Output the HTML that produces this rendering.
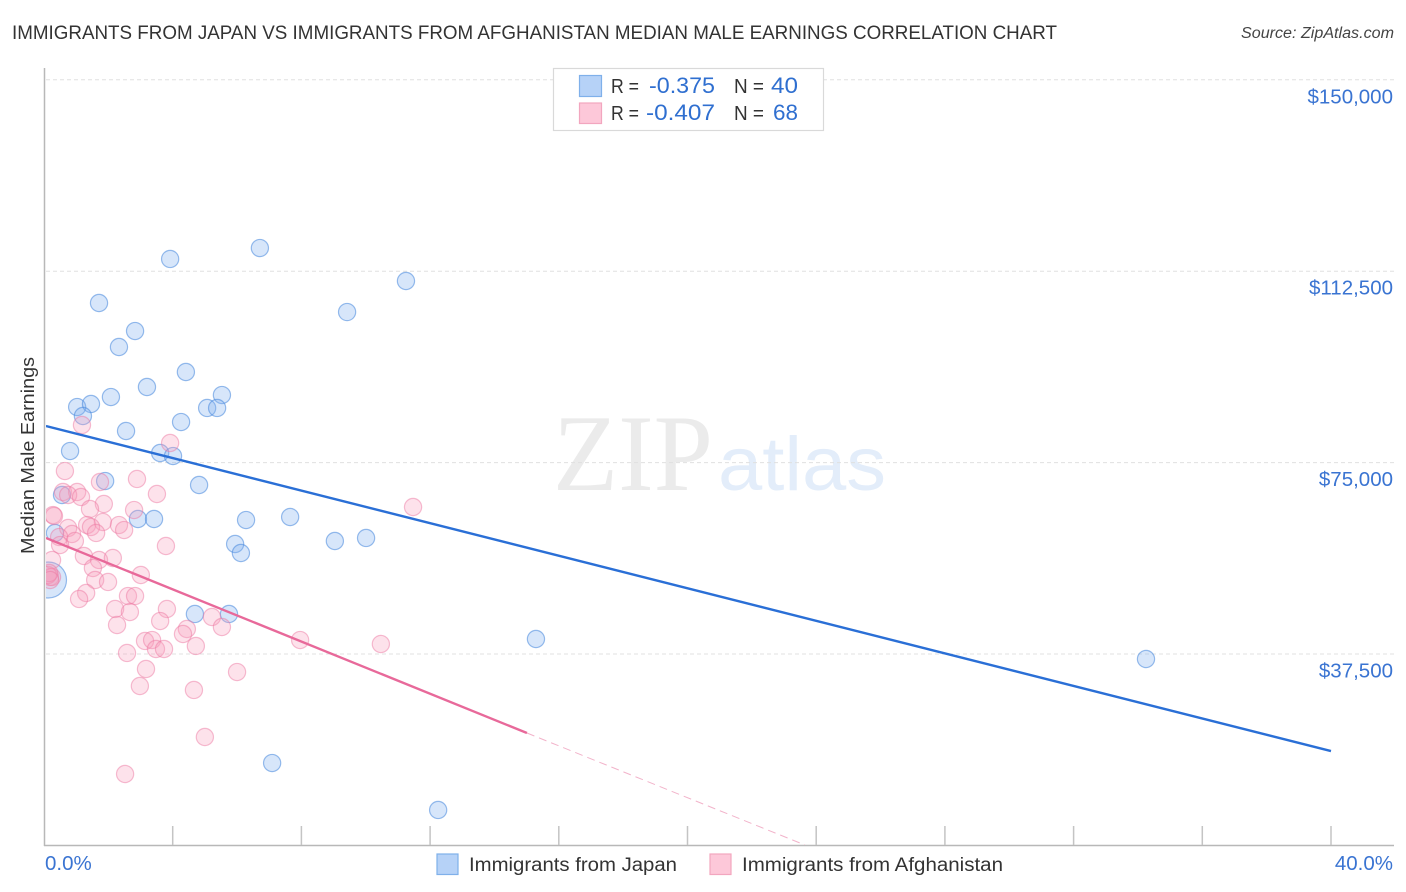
<!DOCTYPE html>
<html lang="en">
<head>
<meta charset="utf-8">
<title>Immigrants from Japan vs Immigrants from Afghanistan Median Male Earnings Correlation Chart</title>
<style>
html,body{margin:0;padding:0;background:#fff;width:1406px;height:892px;overflow:hidden}
svg{display:block;font-family:"Liberation Sans",sans-serif}
</style>
</head>
<body>
<svg id="chart" xmlns="http://www.w3.org/2000/svg" width="1406" height="892" viewBox="0 0 1406 892">
  <defs>
    <clipPath id="plot-clip"><rect x="46" y="60" width="1350" height="785"/></clipPath>
  </defs>
  <rect x="0" y="0" width="1406" height="892" fill="#fff"/>

  <text x="12" y="39" font-size="19.5" fill="#333" textLength="1045" lengthAdjust="spacingAndGlyphs">IMMIGRANTS FROM JAPAN VS IMMIGRANTS FROM AFGHANISTAN MEDIAN MALE EARNINGS CORRELATION CHART</text>
  <text x="1394" y="38" font-size="15.5" font-style="italic" fill="#444" text-anchor="end" textLength="153" lengthAdjust="spacingAndGlyphs">Source: ZipAtlas.com</text>

  <g>
    <text x="553" y="490" font-family="'Liberation Serif',serif" font-size="109" fill="#ebebeb" textLength="160" lengthAdjust="spacingAndGlyphs">ZIP</text>
    <text x="718" y="490" font-size="76" fill="#e3edfa" textLength="168" lengthAdjust="spacingAndGlyphs">atlas</text>
  </g>

  <g id="grid"></g>
  <g id="axes">
    <line x1="44.5" y1="68" x2="44.5" y2="846" stroke="#b8b8b8" stroke-width="1.5"/>
    <line x1="44" y1="845.5" x2="1394" y2="845.5" stroke="#b8b8b8" stroke-width="1.5"/>
  </g>
  <g id="x-ticks"></g>
  <g id="y-labels"></g>
  <g id="x-labels"></g>

  <text transform="translate(34,455.5) rotate(-90)" font-size="18.5" fill="#333" text-anchor="middle" textLength="197" lengthAdjust="spacingAndGlyphs">Median Male Earnings</text>

  <g id="points-japan" clip-path="url(#plot-clip)"></g>
  <g id="points-afghanistan" clip-path="url(#plot-clip)"></g>
  <g id="trends" clip-path="url(#plot-clip)"></g>

  <g>
    <rect x="553.5" y="68.5" width="270" height="62" fill="#fff" stroke="#d9d9d9" stroke-width="1.2"/>
    <rect x="579.5" y="75.5" width="22" height="21" fill="#b6d2f7" stroke="#7fb0ea" stroke-width="1.2"/>
    <rect x="579.5" y="103" width="22" height="20.5" fill="#fdc8d9" stroke="#f2a6bf" stroke-width="1.2"/>
    <text x="611" y="93" font-size="20" fill="#333" textLength="28" lengthAdjust="spacingAndGlyphs">R =</text>
    <text x="715" y="93" font-size="22" fill="#2f6fd0" text-anchor="end" textLength="66" lengthAdjust="spacingAndGlyphs">-0.375</text>
    <text x="734" y="93" font-size="20" fill="#333" textLength="30" lengthAdjust="spacingAndGlyphs">N =</text>
    <text x="798" y="93" font-size="22" fill="#2f6fd0" text-anchor="end" textLength="27" lengthAdjust="spacingAndGlyphs">40</text>
    <text x="611" y="120" font-size="20" fill="#333" textLength="28" lengthAdjust="spacingAndGlyphs">R =</text>
    <text x="715" y="120" font-size="22" fill="#2f6fd0" text-anchor="end" textLength="69" lengthAdjust="spacingAndGlyphs">-0.407</text>
    <text x="734" y="120" font-size="20" fill="#333" textLength="30" lengthAdjust="spacingAndGlyphs">N =</text>
    <text x="798" y="120" font-size="22" fill="#2f6fd0" text-anchor="end" textLength="25" lengthAdjust="spacingAndGlyphs">68</text>
  </g>

  <g>
    <rect x="437" y="854" width="21" height="20.5" fill="#b6d2f7" stroke="#7fb0ea" stroke-width="1.2"/>
    <text x="469" y="871" font-size="19" fill="#333" textLength="208" lengthAdjust="spacingAndGlyphs">Immigrants from Japan</text>
    <rect x="710" y="854" width="21" height="20.5" fill="#fdc8d9" stroke="#f2a6bf" stroke-width="1.2"/>
    <text x="742" y="871" font-size="19" fill="#333" textLength="261" lengthAdjust="spacingAndGlyphs">Immigrants from Afghanistan</text>
  </g>
</svg>
<script>
// ---- chart data ----
const yTickValues = [37500, 75000, 112500, 150000];
const yTickLabels = ["$37,500", "$75,000", "$112,500", "$150,000"];
const xTickValues = [4, 8, 12, 16, 20, 24, 28, 32, 36, 40];
const xEndValues = [0, 40];
const xEndLabels = ["0.0%", "40.0%"];

const japanPct = [3.92,6.71,11.25,9.42,1.71,2.83,2.33,4.41,3.20,2.08,5.53,1.03,1.46,1.21,5.07,5.38,4.26,2.55,0.81,3.61,4.01,1.90,4.82,0.56,6.28,7.65,2.92,3.42,0.34,9.04,10.01,5.94,6.12,4.69,5.75,15.29,34.25,7.09,12.25,0.14];
const japanEarnings = [114900,117040,110580,104500,106270,100780,97650,92750,89810,87850,88240,85890,86480,84130,85700,85700,82950,81190,77270,76880,76290,71390,70610,68650,63750,64340,63950,63950,61210,59640,60230,59050,57290,45340,45340,40440,36520,16140,6940,52000];
const japanLargePointIndex = 39;

const afghanPct = [1.18,3.92,0.65,1.74,2.89,0.59,1.03,0.75,1.15,3.51,1.86,1.43,2.80,0.28,0.31,1.34,1.83,0.75,1.46,2.33,2.49,1.62,0.87,0.47,0.96,0.50,3.79,1.24,1.71,2.14,0.25,1.52,3.01,1.59,1.99,0.19,0.25,0.12,1.31,1.09,2.61,2.83,2.21,3.82,2.67,3.61,2.27,5.22,5.53,4.44,4.32,3.14,3.36,3.48,3.73,4.72,2.58,3.17,2.98,4.66,6.00,5.00,2.52,7.96,11.47,10.47,0.16,0.19];
const afghanEarnings = [82370,78840,73350,71200,71790,69240,69240,68650,68260,68850,66890,65910,65710,64730,64540,62770,63360,62190,62380,62770,61790,61210,61010,60420,59640,58850,58660,56700,55920,56310,55920,54350,52980,52000,51610,52590,52590,52980,49450,48280,48860,48860,46320,46320,45730,43960,43180,44750,42790,42400,41420,40050,40240,38480,38480,39070,37700,34560,31230,30450,33970,21240,13990,40240,66300,39460,53370,52000];

const japanTrendPct = [0.06, 40];
const japanTrendEarnings = [82170, 18490];
const afghanTrendSolidPct = [0.06, 15.01];
const afghanTrendSolidEarnings = [60230, 22020];
const afghanTrendDashedPct = [15.01, 23.65];
const afghanTrendDashedEarnings = [22020, 80];

// ---- scales ----
function xScale(pct) { return 44 + pct * 32.175; }
function yScale(val) { return 845.4 - val * 0.005104; }

const NS = "http://www.w3.org/2000/svg";
function make(tag, parentId, attrs) {
  const el = document.createElementNS(NS, tag);
  for (const k in attrs) el.setAttribute(k, attrs[k]);
  document.getElementById(parentId).appendChild(el);
  return el;
}

// gridlines and value labels
yTickValues.forEach(function (v, i) {
  const y = yScale(v);
  const line = make("line", "grid", {x1: 46, x2: 1394, y1: y, y2: y, stroke: "#e0e0e0", "stroke-width": 1, "stroke-dasharray": "4 3"});
  
  
  const label = make("text", "y-labels", {x: 1393, y: y + 23.5, "font-size": 20.5, fill: "#3a74d2", "text-anchor": "end"});
  label.textContent = yTickLabels[i];
  
  
});

// x-axis ticks
xTickValues.forEach(function (v) {
  const x = xScale(v);
  const tick = make("line", "x-ticks", {x1: x, x2: x, y1: 826, y2: 845, stroke: "#c4c4c4", "stroke-width": 1.5});
  
  
});

xEndValues.forEach(function (v, i) {
  const anchor = i === 0 ? "start" : "end";
  const xp = i === 0 ? xScale(v) + 1 : xScale(v) + 62;
  const label = make("text", "x-labels", {x: xp, y: 870, "font-size": 20.5, fill: "#3a74d2", "text-anchor": anchor});
  label.textContent = xEndLabels[i];
  
  
});

// Japan points
japanPct.forEach(function (p, i) {
  const c = make("circle", "points-japan", {
    cx: xScale(p), cy: yScale(japanEarnings[i]),
    r: i === japanLargePointIndex ? 18 : 8.6,
    fill: "rgba(130,178,238,0.32)", stroke: "rgba(70,135,220,0.55)", "stroke-width": 1.2
  });
  
  
});

// Afghanistan points
afghanPct.forEach(function (p, i) {
  const c = make("circle", "points-afghanistan", {
    cx: xScale(p), cy: yScale(afghanEarnings[i]), r: 8.6,
    fill: "rgba(248,160,190,0.3)", stroke: "rgba(236,120,160,0.48)", "stroke-width": 1.2
  });
  
  
});

// Trend lines
const blueTrend = make("line", "trends", {
  x1: xScale(japanTrendPct[0]), y1: yScale(japanTrendEarnings[0]),
  x2: xScale(japanTrendPct[1]), y2: yScale(japanTrendEarnings[1]),
  stroke: "#2a6fd6", "stroke-width": 2.4
});



const pinkTrend = make("line", "trends", {
  x1: xScale(afghanTrendSolidPct[0]), y1: yScale(afghanTrendSolidEarnings[0]),
  x2: xScale(afghanTrendSolidPct[1]), y2: yScale(afghanTrendSolidEarnings[1]),
  stroke: "#e8699a", "stroke-width": 2.4
});



const pinkDashed = make("line", "trends", {
  x1: xScale(afghanTrendDashedPct[0]), y1: yScale(afghanTrendDashedEarnings[0]),
  x2: xScale(afghanTrendDashedPct[1]), y2: yScale(afghanTrendDashedEarnings[1]),
  stroke: "#f2b3ca", "stroke-width": 1, "stroke-dasharray": "8 5"
});


</script>
</body>
</html>
